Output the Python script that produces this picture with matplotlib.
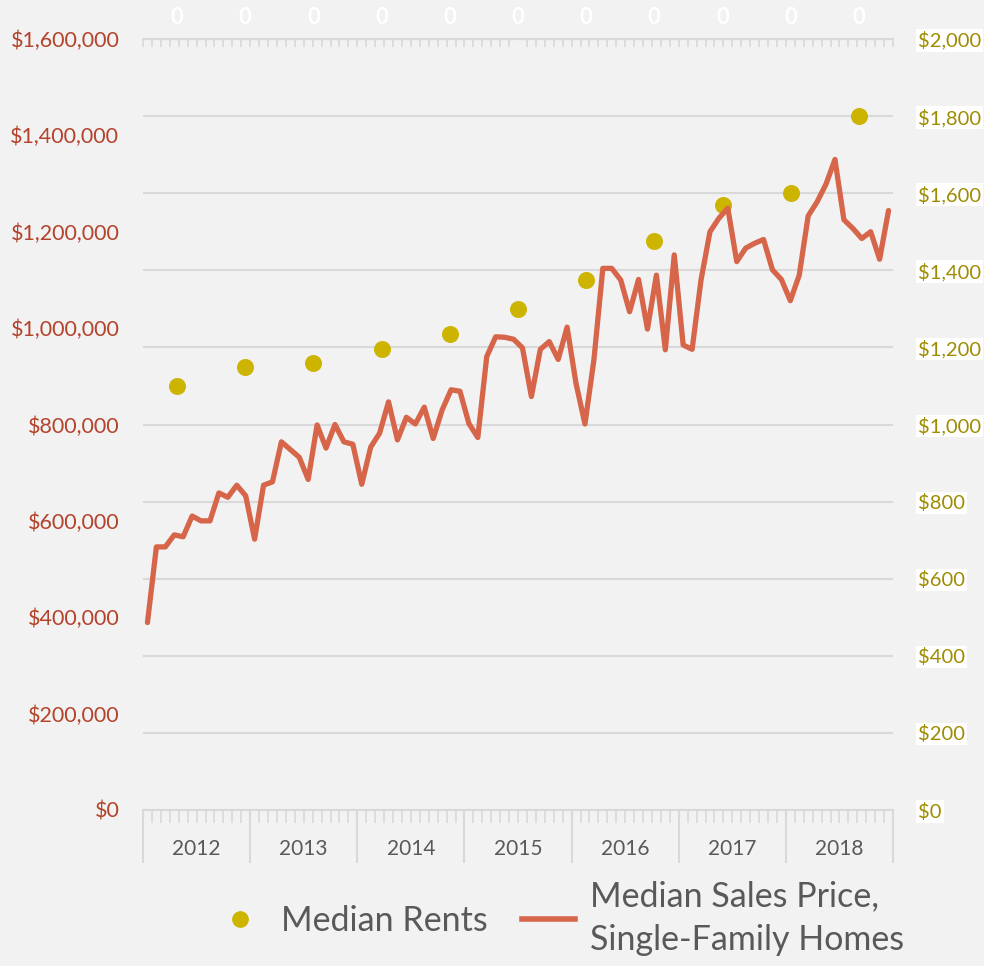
import numpy as np
import matplotlib
matplotlib.use("Agg")
import matplotlib.pyplot as plt
from matplotlib.lines import Line2D

plt.rcParams['font.family'] = ['Lato', 'DejaVu Sans']

# monthly median sales price, single-family homes (Jan 2012 - Dec 2018)
years = ["2012", "2013", "2014", "2015", "2016", "2017", "2018"]
sales_price = [
    389000, 546000, 546000, 571000, 567000, 610000, 600000, 600000, 658000, 649000, 674000, 652000,
    562000, 674000, 681000, 764000, 748000, 732000, 686000, 799000, 751000, 800000, 764000, 759000,
    676000, 753000, 782000, 847000, 768000, 815000, 801000, 836000, 771000, 830000, 872000, 869000,
    802000, 773000, 941000, 982000, 981000, 977000, 959000, 858000, 956000, 972000, 935000, 1002000,
    885000, 801000, 934000, 1124000, 1124000, 1100000, 1034000, 1101000, 998000, 1110000, 955000, 1152000,
    965000, 956000, 1100000, 1200000, 1228000, 1249000, 1138000, 1166000, 1176000, 1184000, 1121000, 1101000,
    1057000, 1110000, 1233000, 1262000, 1299000, 1350000, 1225000, 1207000, 1186000, 1200000, 1143000, 1244000,
]
# median rents (secondary axis)
rents = [1100, 1150, 1160, 1195, 1235, 1300, 1375, 1475, 1570, 1600, 1800]

price_ticks = np.arange(0, 1600001, 200000)
rent_ticks = np.arange(0, 2001, 200)

bg = "#F2F2F2"
grid_c = "#D9D9D9"
line_c = "#D6654A"
dot_c = "#CCB400"
left_c = "#B4432B"
right_c = "#9E8C00"
text_c = "#595959"

fig = plt.figure(figsize=(9.84, 9.66), dpi=100, facecolor=bg)
rect = [143 / 984, 156 / 966, 750 / 984, 771 / 966]

# secondary axes (behind): rents, gridlines, right + top axis
ax2 = fig.add_axes(rect, facecolor=bg, zorder=1)
ax2.scatter(range(len(rents)), rents, s=150, color=dot_c, zorder=3, linewidths=0)
ax2.set_xlim(-0.5, len(rents) - 0.5)
ax2.set_ylim(0, 2000)
ax2.set_yticks(rent_ticks)
ax2.set_yticklabels([f"${v:,.0f}" for v in rent_ticks])
ax2.yaxis.tick_right()
ax2.tick_params(axis="y", length=0, pad=18, labelsize=14.5, labelcolor=right_c)
for t in ax2.get_yticklabels():
    t.set_bbox(dict(facecolor="white", edgecolor="none", pad=1.5))
ax2.grid(axis="y", color=grid_c, lw=1.5)
ax2.set_axisbelow(True)
ax2.xaxis.tick_top()
ax2.set_xticks(range(len(rents)))
ax2.set_xticklabels(["0"] * len(rents))
ax2.set_xticks(np.linspace(-0.5, len(rents) - 0.5, 85), minor=True)
ax2.tick_params(axis="x", which="major", length=0, pad=8, labelsize=16,
                labelcolor="white")
ax2.tick_params(axis="x", which="minor", direction="in", length=6, width=1.2,
                color=grid_c)
for lab in ax2.get_xticklabels():
    lab.set_fontweight("bold")
for s in ["left", "right", "bottom"]:
    ax2.spines[s].set_visible(False)
ax2.spines["top"].set_color(grid_c)
ax2.spines["top"].set_linewidth(1.5)

# primary axes (front): sales price line, left + bottom axis
ax = fig.add_axes(rect, facecolor="none", zorder=2)
n = len(sales_price)
ax.plot(range(n), sales_price, color=line_c, lw=3.8, solid_capstyle="round",
        solid_joinstyle="round")
ax.set_xlim(-0.5, n - 0.5)
ax.set_ylim(0, 1600000)
ax.set_yticks(price_ticks)
ax.set_yticklabels([f"${v:,.0f}" for v in price_ticks])
ax.tick_params(axis="y", length=0, pad=17, labelsize=15.5, labelcolor=left_c)
ax.set_xticks(np.arange(-0.5, n, 12))
ax.set_xticklabels([])
ax.set_xticks(np.arange(-0.5, n, 1), minor=True)
ax.tick_params(axis="x", which="major", length=38, width=1.5, color=grid_c)
ax.tick_params(axis="x", which="minor", length=9, width=1.2, color=grid_c)
for i, y in enumerate(years):
    ax.text(i * 12 + 5.5, -0.051, y, transform=ax.get_xaxis_transform(),
            ha="center", va="center", fontsize=15, color=text_c)
for s in ["left", "right", "top"]:
    ax.spines[s].set_visible(False)
ax.spines["bottom"].set_color(grid_c)
ax.spines["bottom"].set_linewidth(1.5)

handles = [
    Line2D([], [], ls="none", marker="o", ms=11, color=dot_c),
    Line2D([], [], color=line_c, lw=4),
]
leg = fig.legend(handles, ["Median Rents", "Median Sales Price,\nSingle-Family Homes"],
                 loc="center", bbox_to_anchor=(0.568, 0.05), ncol=2, frameon=False,
                 fontsize=24.5, labelcolor=text_c, handlelength=1.55, columnspacing=1.0,
                 handletextpad=0.45)
for t in leg.get_texts():
    t.set_linespacing(1.45)

fig.savefig("out.png", dpi=100, facecolor=bg)
